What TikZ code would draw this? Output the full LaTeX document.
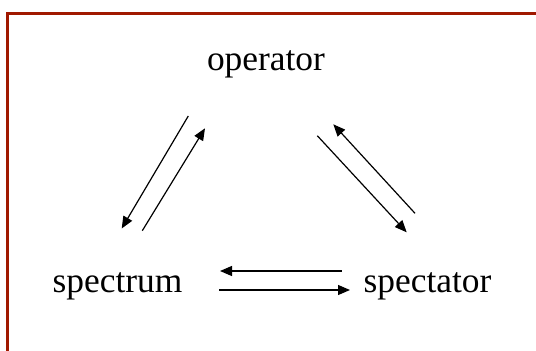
\documentclass[tikz,border=0pt]{standalone}
\usepackage{fontspec}
\setmainfont{Liberation Serif}
\usetikzlibrary{arrows.meta}
\definecolor{framered}{RGB}{160,24,0}
\tikzset{
  lbl/.style={anchor=base, inner sep=0pt, font=\fontsize{35.4}{40}\selectfont},
  arr/.style={line width=1.2pt, -{Triangle[length=12pt,width=10pt]}},
  frameline/.style={draw=framered, line width=2.4pt}
}
\begin{document}
\begin{tikzpicture}[x=1pt,y=-1pt]
\useasboundingbox (0,0) rectangle (536,351);
\clip (0,0) rectangle (536,351);
% frame (right and bottom sides lie outside the picture)
\coordinate (fTL) at (7.5,13.5);
\coordinate (fTR) at (540,13.5);
\coordinate (fBL) at (7.5,355);
\draw[frameline] (fTR) -- (fTL) -- (fBL);
% labels
\node[lbl] (op) at (266,70.5) {operator};
\node[lbl] (spm) at (117.5,292) {spectrum};
\node[lbl] (spt) at (427.5,292) {spectator};
% arrow end points
\coordinate (a1s) at (188.3,116);   \coordinate (a1e) at (121.7,228.5);
\coordinate (a2s) at (142.3,230.7); \coordinate (a2e) at (205,128.3);
\coordinate (a3s) at (415,213.3);   \coordinate (a3e) at (333.3,124.3);
\coordinate (a4s) at (317.3,135.7); \coordinate (a4e) at (406.7,232.3);
\coordinate (a5s) at (341.7,271);   \coordinate (a5e) at (220,271);
\coordinate (a6s) at (219.3,290);   \coordinate (a6e) at (350,290);
\draw[arr] (a1s) -- (a1e);
\draw[arr] (a2s) -- (a2e);
\draw[arr] (a3s) -- (a3e);
\draw[arr] (a4s) -- (a4e);
\draw[arr] (a5s) -- (a5e);
\draw[arr] (a6s) -- (a6e);
\end{tikzpicture}
\end{document}
